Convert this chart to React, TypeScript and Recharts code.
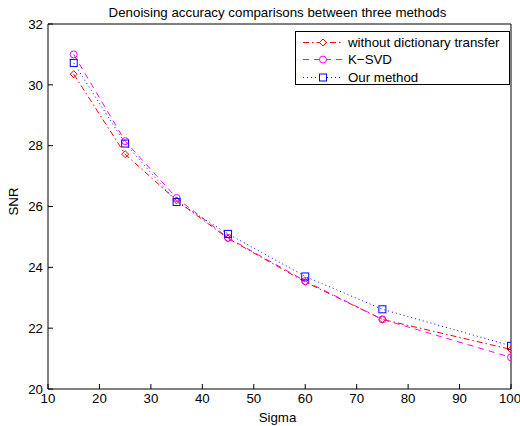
import React from 'react';
import { LineChart, Line, XAxis, YAxis, Legend, Label } from 'recharts';

const sigma = [15, 25, 35, 45, 60, 75, 100];
const withoutTransfer = [30.35, 27.72, 26.2, 24.95, 23.52, 22.29, 21.3];
const ksvd = [31.0, 28.15, 26.28, 24.97, 23.55, 22.29, 21.04];
const ours = [30.72, 28.07, 26.15, 25.1, 23.7, 22.62, 21.42];

const xTicks = [10, 20, 30, 40, 50, 60, 70, 80, 90, 100];
const yTicks = [20, 22, 24, 26, 28, 30, 32];

const data = sigma.map((s, i) => ({
  sigma: s,
  without: withoutTransfer[i],
  ksvd: ksvd[i],
  ours: ours[i],
}));

const FONT = '"Liberation Sans", Arial, Helvetica, sans-serif';
const FS = 13.3;

const RED = '#ff0000';
const MAG = '#ff00ff';
const BLUE = '#0000ff';

const Diamond = (p: any) => {
  const { cx, cy, index } = p;
  if (cx == null || cy == null) return <g key={index} />;
  const r = 3.5;
  return (
    <path
      key={`d${index}`}
      d={`M${cx},${cy - r}L${cx + r},${cy}L${cx},${cy + r}L${cx - r},${cy}Z`}
      fill="none"
      stroke={RED}
      strokeWidth={1}
    />
  );
};

const Circ = (p: any) => {
  const { cx, cy, index } = p;
  if (cx == null || cy == null) return <g key={index} />;
  return <circle key={`c${index}`} cx={cx} cy={cy} r={3.5} fill="none" stroke={MAG} strokeWidth={1} />;
};

const Sq = (p: any) => {
  const { cx, cy, index } = p;
  if (cx == null || cy == null) return <g key={index} />;
  return (
    <rect key={`s${index}`} x={cx - 3.5} y={cy - 3.5} width={7} height={7} fill="none" stroke={BLUE} strokeWidth={1} />
  );
};

const legendItems = [
  { label: 'without dictionary transfer', color: RED, dash: '6,3,1.5,3', marker: 'diamond' },
  { label: 'K\u2212SVD', color: MAG, dash: '6,5', marker: 'circle' },
  { label: 'Our method', color: BLUE, dash: '1,3', marker: 'square' },
];

const LegendBox = () => (
  <div
    style={{
      width: 213,
      height: 52,
      border: '1px solid #000',
      background: '#fff',
      fontFamily: FONT,
      fontSize: FS,
      color: '#000',
      position: 'relative',
      boxSizing: 'content-box',
    }}
  >
    {legendItems.map((it, i) => (
      <div
        key={it.label}
        style={{ position: 'absolute', left: 0, top: 1.5 + i * 17.7, height: 17, display: 'flex', alignItems: 'center' }}
      >
        <svg width={50} height={17} style={{ display: 'block' }}>
          <line x1={7} y1={8.5} x2={47} y2={8.5} stroke={it.color} strokeDasharray={it.dash} strokeWidth={1} />
          {it.marker === 'diamond' && <path d="M27,5L30.5,8.5L27,12L23.5,8.5Z" fill="#fff" stroke={it.color} />}
          {it.marker === 'circle' && <circle cx={27} cy={8.5} r={3.5} fill="#fff" stroke={it.color} />}
          {it.marker === 'square' && <rect x={23.5} y={5} width={7} height={7} fill="#fff" stroke={it.color} />}
        </svg>
        <span style={{ marginLeft: 2, whiteSpace: 'nowrap' }}>{it.label}</span>
      </div>
    ))}
  </div>
);

const tickStyle = { fontSize: FS, fill: '#000', fontFamily: FONT };

export default function App() {
  return (
    <div style={{ position: 'absolute', left: 0, top: 0, width: 520, height: 426, background: '#fff', fontFamily: FONT }}>
      <LineChart width={520} height={426} data={data} margin={{ top: 23, right: 8, bottom: 0, left: 0 }}>
        <XAxis
          xAxisId="b"
          dataKey="sigma"
          type="number"
          domain={[10, 100]}
          ticks={xTicks}
          allowDataOverflow
          height={37}
          tickSize={-5}
          tickMargin={10}
          stroke="#000"
          tick={tickStyle}
          tickLine={{ stroke: '#000' }}
          axisLine={{ stroke: '#000' }}
        >
          <Label
            content={(props: any) => {
              const vb = props.viewBox || {};
              return (
                <text x={vb.x + vb.width / 2 - 2} y={422} textAnchor="middle" fontSize={FS} fontFamily={FONT} fill="#000">
                  Sigma
                </text>
              );
            }}
          />
        </XAxis>
        <XAxis
          xAxisId="t"
          orientation="top"
          type="number"
          domain={[10, 100]}
          ticks={xTicks}
          height={1}
          tickSize={-5}
          tickMargin={0}
          tick={() => <g />}
          stroke="#000"
          tickLine={{ stroke: '#000' }}
          axisLine={{ stroke: '#000' }}
        >
          <Label
            content={(props: any) => {
              const vb = props.viewBox || {};
              return (
                <text x={vb.x + vb.width / 2 - 2} y={17} textAnchor="middle" fontSize={FS} fontFamily={FONT} fill="#000">
                  Denoising accuracy comparisons between three methods
                </text>
              );
            }}
          />
        </XAxis>
        <YAxis
          yAxisId="l"
          type="number"
          domain={[20, 32]}
          ticks={yTicks}
          allowDataOverflow
          width={48}
          tickSize={-5}
          tickMargin={10}
          stroke="#000"
          tick={tickStyle}
          tickLine={{ stroke: '#000' }}
          axisLine={{ stroke: '#000' }}
        >
          <Label
            content={(props: any) => {
              const vb = props.viewBox || {};
              const cy = vb.y + vb.height / 2 - 5;
              return (
                <text
                  x={18}
                  y={cy}
                  textAnchor="middle"
                  fontSize={FS}
                  fontFamily={FONT}
                  fill="#000"
                  transform={`rotate(-90 18 ${cy})`}
                >
                  SNR
                </text>
              );
            }}
          />
        </YAxis>
        <YAxis
          yAxisId="r"
          orientation="right"
          type="number"
          domain={[20, 32]}
          ticks={yTicks}
          width={1}
          tickSize={-5}
          tickMargin={0}
          tick={() => <g />}
          stroke="#000"
          tickLine={{ stroke: '#000' }}
          axisLine={{ stroke: '#000' }}
        />
        <Legend
          layout="horizontal"
          verticalAlign="middle"
          align="center"
          content={() => <LegendBox />}
          wrapperStyle={{ position: 'absolute', left: 295, top: 31, width: 215, height: 54 }}
        />
        <Line
          xAxisId="b"
          yAxisId="l"
          type="linear"
          dataKey="without"
          stroke={RED}
          strokeWidth={1}
          strokeDasharray="6,3,1.5,3"
          dot={Diamond}
          activeDot={false}
          isAnimationActive={false}
        />
        <Line
          xAxisId="b"
          yAxisId="l"
          type="linear"
          dataKey="ksvd"
          stroke={MAG}
          strokeWidth={1}
          strokeDasharray="6,5"
          dot={Circ}
          activeDot={false}
          isAnimationActive={false}
        />
        <Line
          xAxisId="b"
          yAxisId="l"
          type="linear"
          dataKey="ours"
          stroke={BLUE}
          strokeWidth={1}
          strokeDasharray="1,3"
          dot={Sq}
          activeDot={false}
          isAnimationActive={false}
        />
      </LineChart>
    </div>
  );
}
